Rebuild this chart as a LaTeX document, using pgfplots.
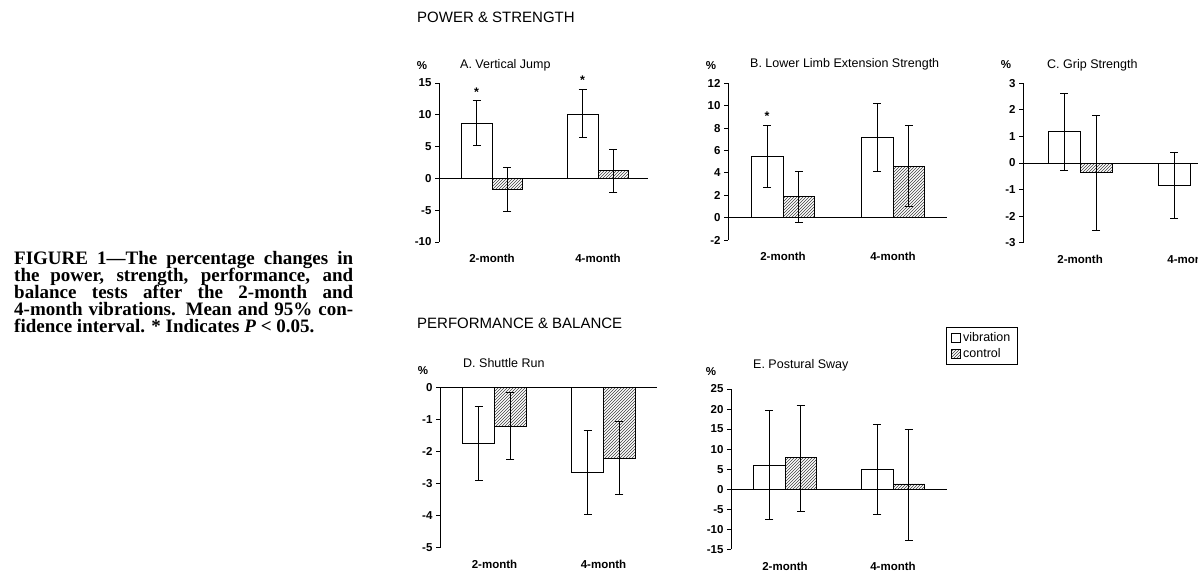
\documentclass[border=0pt]{standalone}
\usepackage{fontspec}
\setmainfont{Liberation Sans}
\newfontfamily\capfont{Liberation Serif}
\usepackage{pgfplots}
\pgfplotsset{compat=1.18}
\usetikzlibrary{patterns}

\pgfplotsset{
  panel/.style={
    scale only axis,
    axis lines*=left,
    x axis line style={draw=none},
    xtick={0,1}, xticklabels={2-month,4-month},
    x tick style={draw=none},
    y axis line style={line width=0.9pt},
    y tick style={line width=0.8pt, black},
    tick align=outside,
    major tick length=4pt,
    ticklabel style={font=\fontsize{11.5}{13}\selectfont\bfseries},
    xticklabel style={yshift=-5pt},
    clip=false,
    anchor=south west,
  },
  vib/.style={ybar, bar width=0.29, bar shift=0pt, draw=black, line width=0.9pt, fill=white,
    error bars/y dir=both, error bars/y explicit,
    error bars/error bar style={line width=1pt, black},
    error bars/error mark=-,
    error bars/error mark options={rotate=90, mark size=4pt, line width=1pt, black},
    legend image code/.code={\draw[black, line width=0.8pt, fill=white] (0pt,-4.5pt) rectangle (9pt,4.5pt);}},
  ctl/.style={ybar, bar width=0.29, bar shift=0pt, draw=black, line width=0.9pt,
    pattern=north east lines, pattern color=darkgray,
    error bars/y dir=both, error bars/y explicit,
    error bars/error bar style={line width=1pt, black},
    error bars/error mark=-,
    error bars/error mark options={rotate=90, mark size=4pt, line width=1pt, black},
    legend image code/.code={\draw[black, line width=0.8pt, pattern=north east lines, pattern color=darkgray] (0pt,-4.5pt) rectangle (9pt,4.5pt);}},
  base/.style={black, line width=0.7pt, forget plot},
}

\newcommand{\pct}{\fontsize{11.5}{12}\selectfont\bfseries}
\newcommand{\ttl}{\fontsize{12.5}{14}\selectfont}
\newcommand{\sect}{\fontsize{15}{17}\selectfont}
\newcommand{\astf}{\fontsize{12.5}{13}\selectfont\bfseries}

\begin{document}
\begin{tikzpicture}
\useasboundingbox (0pt,0pt) rectangle (1198pt,574pt);
\clip (0pt,0pt) rectangle (1198pt,574pt);
\fill[white] (0pt,0pt) rectangle (1198pt,574pt);

% caption
\begin{scope}[every node/.style={anchor=base west, inner sep=0pt, font=\capfont\bfseries\fontsize{19}{17}\selectfont}]
\node at (14pt,310pt) {\makebox[339pt][s]{FIGURE 1—The percentage changes in}};
\node at (14pt,293pt) {\makebox[339pt][s]{the power, strength, performance, and}};
\node at (14pt,276pt) {\makebox[339pt][s]{balance tests after the 2-month and}};
\node at (14pt,259pt) {\makebox[339pt][s]{4-month vibrations. Mean and 95\% con-}};
\node at (14pt,242pt) {fidence interval. * Indicates \textit{P} < 0.05.};
\end{scope}

% section titles
\node[anchor=west, inner sep=0pt, font=\sect] at (417pt,557pt) {POWER \& STRENGTH};
\node[anchor=west, inner sep=0pt, font=\sect] at (417pt,251pt) {PERFORMANCE \& BALANCE};

% panel labels
\node[font=\pct] at (422pt,508pt) {\%};
\node[anchor=west, inner sep=0pt, font=\ttl] at (460pt,509pt) {A. Vertical Jump};
\node[font=\pct] at (711pt,508pt) {\%};
\node[anchor=west, inner sep=0pt, font=\ttl] at (750pt,510pt) {B. Lower Limb Extension Strength};
\node[font=\pct] at (1006pt,509pt) {\%};
\node[anchor=west, inner sep=0pt, font=\ttl] at (1047pt,509pt) {C. Grip Strength};
\node[font=\pct] at (423pt,203pt) {\%};
\node[anchor=west, inner sep=0pt, font=\ttl] at (463pt,211pt) {D. Shuttle Run};
\node[font=\pct] at (711pt,202pt) {\%};
\node[anchor=west, inner sep=0pt, font=\ttl] at (753pt,209pt) {E. Postural Sway};

% ---------------- A
\begin{axis}[panel, at={(439pt,332pt)}, width=212pt, height=159pt,
  xmin=-0.5, xmax=1.5, ymin=-10, ymax=15,
  ytick={-10,-5,0,5,10,15}, yticklabels={-10,-5,0,5,10,15}]
\addplot[base] coordinates {(-0.5,0) (1.47,0)};
\addplot[vib] coordinates {(-0.145,8.7) += (0,3.5) -= (0,3.5) (0.855,10.1) += (0,3.8) -= (0,3.7)};
\addplot[ctl] coordinates {(0.145,-1.7) += (0,3.4) -= (0,3.5) (1.145,1.2) += (0,3.4) -= (0,3.4)};
\node[font=\astf] at (axis cs:-0.145,13.6) {*};
\node[font=\astf] at (axis cs:0.855,15.5) {*};
\end{axis}

% ---------------- B
\begin{axis}[panel, at={(728pt,334pt)}, width=220pt, height=156.7pt,
  xmin=-0.5, xmax=1.5, ymin=-2, ymax=12,
  ytick={-2,0,2,4,6,8,10,12}, yticklabels={-2,0,2,4,6,8,10,12}]
\addplot[base] coordinates {(-0.5,0) (1.49,0)};
\addplot[vib] coordinates {(-0.145,5.5) += (0,2.7) -= (0,2.8) (0.855,7.2) += (0,3.0) -= (0,3.1)};
\addplot[ctl] coordinates {(0.145,1.9) += (0,2.2) -= (0,2.3) (1.145,4.6) += (0,3.6) -= (0,3.6)};
\node[font=\astf] at (axis cs:-0.145,9.1) {*};
\end{axis}

% ---------------- C
\begin{axis}[panel, at={(1023pt,331.3pt)}, width=222pt, height=159.4pt,
  xmin=-0.52, xmax=1.5, ymin=-3, ymax=3,
  ytick={-3,-2,-1,0,1,2,3}, yticklabels={-3,-2,-1,0,1,2,3}]
\addplot[base] coordinates {(-0.52,0) (1.5,0)};
\addplot[vib] coordinates {(-0.145,1.2) += (0,1.4) -= (0,1.5) (0.855,-0.85) += (0,1.25) -= (0,1.25)};
\addplot[ctl] coordinates {(0.145,-0.35) += (0,2.15) -= (0,2.2)};
\end{axis}

% ---------------- D
\begin{axis}[panel, at={(440pt,26.3pt)}, width=218pt, height=160pt,
  xmin=-0.5, xmax=1.5, ymin=-5, ymax=0,
  ytick={-5,-4,-3,-2,-1,0}, yticklabels={-5,-4,-3,-2,-1,0}]
\addplot[base] coordinates {(-0.5,0) (1.49,0)};
\addplot[vib] coordinates {(-0.145,-1.75) += (0,1.15) -= (0,1.15) (0.855,-2.65) += (0,1.3) -= (0,1.3)};
\addplot[ctl] coordinates {(0.145,-1.2) += (0,1.05) -= (0,1.05) (1.145,-2.2) += (0,1.15) -= (0,1.15)};
\end{axis}

% ---------------- E
\begin{axis}[panel, at={(731pt,24.7pt)}, width=216pt, height=160.3pt,
  xmin=-0.5, xmax=1.5, ymin=-15, ymax=25,
  ytick={-15,-10,-5,0,5,10,15,20,25}, yticklabels={-15,-10,-5,0,5,10,15,20,25},
  legend style={at={(axis description cs:0.995,1.387)}, anchor=north west,
    draw=black, line width=0.8pt, font=\fontsize{12.5}{14}\selectfont,
    inner xsep=5pt, inner ysep=3pt, row sep=2pt, cells={anchor=west}},
  legend cell align=left]
\addplot[base] coordinates {(-0.53,0) (1.5,0)};
\addplot[vib] coordinates {(-0.145,6.0) += (0,13.7) -= (0,13.5) (0.855,5.0) += (0,11.2) -= (0,11.3)};
\addplot[ctl] coordinates {(0.145,8.0) += (0,13.0) -= (0,13.5) (1.145,1.3) += (0,13.7) -= (0,14.0)};
\legend{vibration, control}
\end{axis}
\end{tikzpicture}
\end{document}
